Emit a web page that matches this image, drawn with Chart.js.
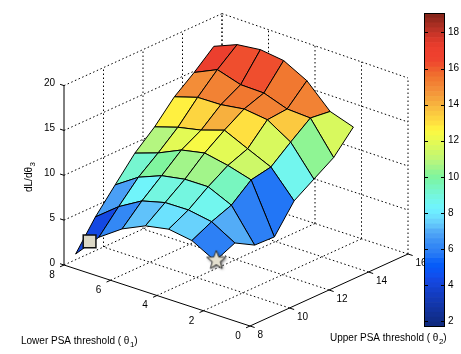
<!DOCTYPE html>
<html>
<head>
<meta charset="utf-8">
<title>dL/dθ3 surface</title>
<script src="https://cdn.jsdelivr.net/npm/chart.js@4"></script>
<style>
  html, body { margin: 0; padding: 0; background: #fff; }
  #wrap { position: relative; width: 461px; height: 354px; overflow: hidden; }
  canvas { position: absolute; left: 0; top: 0; }
</style>
</head>
<body>
<div id="wrap">
  <canvas id="surface" width="461" height="354"></canvas>
  <canvas id="colorbar" width="461" height="354"></canvas>
</div>
<script>
// values
const theta1Values = [7.5, 6.5, 5.5, 4.5, 3.5, 2.5, 1.5];
const theta2Values = [8, 9, 10, 11, 12, 13, 14, 15];
const zRows = [
  [1.65, 4.78, 7.35, 9.89, 11.82, 14.17, 15.88, 17.8],
  [4.37, 6.78, 9.06, 10.77, 12.64, 14.98, 17.08, 18.88],
  [6.15, 8.27, 10.09, 11.96, 13.19, 15.04, 16.28, 19.21],
  [7.34, 8.94, 10.55, 12.49, 14.05, 15.43, 16.23, 18.88],
  [7.82, 8.97, 10.57, 11.96, 12.84, 15.1, 15.32, 17.51],
  [7.4, 8.51, 9.37, 11.21, 11.66, 13.47, 15.19, 14.94],
  [5.98, 6.99, 5.76, 5.68, 8.73, 10.18, 11.62, 14.07],
];
const theta1Ticks = [0, 2, 4, 6, 8];
const theta2Ticks = [8, 10, 12, 14, 16];
const zTicks = [0, 5, 10, 15, 20];
const colorbarTicks = [2, 4, 6, 8, 10, 12, 14, 16, 18];
const squareMarker = [6.9, 8, 3.56];
const starMarker = [1.45, 8, 6.08];
const zMin = 1.67;
const zMax = 19.08;
const levelColors = [
  '#0f2a80', '#102d8a', '#113094', '#12339f', '#1236aa', '#1339b5', '#133cc0', '#1440cb',
  '#1545d8', '#1448e2', '#1050ee', '#0a55f5', '#065cf8', '#1066f8', '#2276f6', '#2d80f5',
  '#3388f5', '#3d92f5', '#4a9ff6', '#53acf7', '#60c2fa', '#68d2fc', '#6ce2fe', '#6eeeff',
  '#70f4fa', '#72f6ee', '#74f6e0', '#76f6d0', '#78f6bf', '#7af5ae', '#80f59f', '#8ff594',
  '#a2f58a', '#b4f680', '#c2f773', '#cdf868', '#d8f95e', '#e3fa55', '#eefa4c', '#f8f945',
  '#fff040', '#ffe040', '#fdd540', '#fbc940', '#f9bd40', '#f7b03e', '#f5a43c', '#f4983a',
  '#f38d38', '#f28234', '#f17830', '#f06c2e', '#ef5e2e', '#ef4e2e', '#ee432e', '#ee402e',
  '#ec3f2e', '#e63c2c', '#da392a', '#cb3528', '#ba3226', '#a92e22', '#98291e', '#87251a',
];

const FONT = '10px "Liberation Sans", Arial, sans-serif';
const SUB_FONT = '8px "Liberation Sans", Arial, sans-serif';

// 3D view: data values to the flat plane of the x/y scales
function project(t1, t2, z) {
  const a = t1 / 8, b = (t2 - 8) / 8;
  return {
    x: 250 - 186 * a + 158 * b,
    y: 326 - 61 * a - 72 * b - (8.97 - 0.17 * b * (1 - a)) * z,
  };
}

function colorFor(z) {
  const i = Math.floor((z - zMin) / (zMax - zMin) * levelColors.length);
  return levelColors[Math.max(0, Math.min(levelColors.length - 1, i))];
}

function lineSet(points, color, dash, width) {
  return {
    data: points.map(p => project(p[0], p[1], p[2])),
    showLine: true,
    fill: false,
    tension: 0,
    pointRadius: 0,
    borderColor: color,
    borderWidth: width || 1,
    borderDash: dash || [],
  };
}

function gridSets() {
  const sets = [];
  const dots = [1.5, 2.5];
  theta1Ticks.forEach(t => {
    if (t !== 0) sets.push(lineSet([[t, 8, 0], [t, 16, 0]], '#000', dots));
    sets.push(lineSet([[t, 16, 0], [t, 16, 20]], '#000', dots));
  });
  theta2Ticks.forEach(t => {
    if (t !== 8) sets.push(lineSet([[0, t, 0], [8, t, 0]], '#000', dots));
    if (t !== 8) sets.push(lineSet([[8, t, 0], [8, t, 20]], '#000', dots));
  });
  zTicks.forEach(z => {
    if (z === 0) return;
    sets.push(lineSet([[8, 8, z], [8, 16, z]], '#000', dots));
    sets.push(lineSet([[8, 16, z], [0, 16, z]], '#000', dots));
  });
  return sets;
}

function axisSets() {
  const sets = [
    lineSet([[8, 8, 0], [8, 8, 20]], '#000'),
    lineSet([[8, 8, 0], [0, 8, 0]], '#000'),
    lineSet([[0, 8, 0], [0, 16, 0]], '#000'),
  ];
  zTicks.forEach(z => sets.push(lineSet([[8, 8, z], [8.17, 8, z]], '#000')));
  theta1Ticks.forEach(t => sets.push(lineSet([[t, 8, 0], [t, 7.8, 0]], '#000')));
  theta2Ticks.forEach(t => sets.push(lineSet([[0, t, 0], [-0.2, t, 0]], '#000')));
  return sets;
}

// nearest cell first, the library paints dataset 0 last
function surfaceSets() {
  const sets = [];
  for (let i = theta1Values.length - 2; i >= 0; i--) {
    for (let k = 0; k < theta2Values.length - 1; k++) {
      const t1a = theta1Values[i], t1b = theta1Values[i + 1];
      const t2a = theta2Values[k], t2b = theta2Values[k + 1];
      const color = colorFor(zRows[i + 1][k]);
      const cell = lineSet([
        [t1a, t2a, zRows[i][k]],
        [t1a, t2b, zRows[i][k + 1]],
        [t1b, t2b, zRows[i + 1][k + 1]],
        [t1b, t2a, zRows[i + 1][k]],
        [t1a, t2a, zRows[i][k]],
      ], '#000');
      cell.fill = 'shape';
      cell.backgroundColor = color;
      cell.borderJoinStyle = 'round';
      sets.push(cell);
    }
  }
  return sets;
}

function starImage() {
  const c = document.createElement('canvas');
  c.width = 28;
  c.height = 28;
  const g = c.getContext('2d');
  g.beginPath();
  for (let n = 0; n < 10; n++) {
    const r = n % 2 ? 4.2 : 10;
    const ang = -Math.PI / 2 + n * Math.PI / 5;
    g[n ? 'lineTo' : 'moveTo'](14 + r * Math.cos(ang), 14 + r * Math.sin(ang));
  }
  g.closePath();
  g.shadowColor = 'rgba(0,0,0,0.7)';
  g.shadowBlur = 3;
  g.shadowOffsetX = 1;
  g.shadowOffsetY = 1;
  g.fillStyle = '#e4e0cf';
  g.fill();
  g.shadowColor = 'transparent';
  g.strokeStyle = '#333';
  g.lineWidth = 1;
  g.stroke();
  return c;
}

function markerSets() {
  const square = project(squareMarker[0], squareMarker[1], squareMarker[2]);
  const star = project(starMarker[0], starMarker[1], starMarker[2]);
  return [
    { data: [star], pointStyle: starImage(), pointRadius: 10, showLine: false },
    {
      data: [square], pointStyle: 'rect', pointRadius: 9, showLine: false,
      pointBackgroundColor: '#dcd8c6', pointBorderColor: '#111', pointBorderWidth: 1.5,
    },
  ];
}

// text with one subscript, rotated when needed
function labelWithSub(ctx, x, y, before, sub, after, rotate) {
  ctx.save();
  ctx.translate(x, y);
  if (rotate) ctx.rotate(-Math.PI / 2);
  ctx.textAlign = 'left';
  ctx.textBaseline = 'alphabetic';
  ctx.font = FONT;
  ctx.fillText(before, 0, 0);
  let pos = ctx.measureText(before).width + 0.5;
  ctx.font = SUB_FONT;
  ctx.fillText(sub, pos, 3);
  pos += ctx.measureText(sub).width;
  ctx.font = FONT;
  if (after) ctx.fillText(after, pos, 0);
  ctx.restore();
}

const surfaceText = {
  id: 'surfaceText',
  afterDatasetsDraw(chart) {
    const ctx = chart.ctx;
    const sx = chart.scales.x, sy = chart.scales.y;
    const at = (t1, t2, z) => {
      const p = project(t1, t2, z);
      return { x: sx.getPixelForValue(p.x), y: sy.getPixelForValue(p.y) };
    };
    ctx.save();
    ctx.fillStyle = '#000';
    ctx.font = FONT;
    ctx.textBaseline = 'middle';
    ctx.textAlign = 'right';
    zTicks.forEach(z => {
      const p = at(8, 8, z);
      ctx.fillText(String(z), p.x - 9, p.y - 2);
    });
    ctx.textAlign = 'center';
    theta1Ticks.forEach(t => {
      const p = at(t, 8, 0);
      ctx.fillText(String(t), p.x - 12, p.y + 10);
    });
    ctx.textAlign = 'left';
    theta2Ticks.forEach(t => {
      const p = at(0, t, 0);
      ctx.fillText(String(t), p.x + 7.5, p.y + 9);
    });
    labelWithSub(ctx, 21, 344, 'Lower PSA threshold ( θ', '1', ')', false);
    labelWithSub(ctx, 330, 341, 'Upper PSA threshold ( θ', '2', ')', false);
    labelWithSub(ctx, 32, 192, 'dL/dθ', '3', '', true);
    ctx.restore();
  },
};

new Chart(document.getElementById('surface'), {
  type: 'scatter',
  data: { datasets: [...markerSets(), ...surfaceSets(), ...axisSets(), ...gridSets()] },
  options: {
    responsive: false,
    animation: false,
    events: [],
    layout: { padding: 0, autoPadding: false },
    plugins: { legend: { display: false }, tooltip: { enabled: false } },
    scales: {
      x: { type: 'linear', min: 0, max: 461, display: false },
      y: { type: 'linear', min: 0, max: 354, reverse: true, display: false },
    },
  },
  plugins: [surfaceText],
});

const barFrame = {
  id: 'barFrame',
  afterDatasetsDraw(chart) {
    const { ctx, chartArea: a, scales } = chart;
    ctx.save();
    ctx.strokeStyle = '#000';
    ctx.lineWidth = 1;
    ctx.strokeRect(a.left + 0.5, a.top + 0.5, a.right - a.left - 1, a.bottom - a.top - 1);
    ctx.beginPath();
    colorbarTicks.forEach(v => {
      const y = Math.round(scales.y.getPixelForValue(v)) + 0.5;
      ctx.moveTo(a.left, y);
      ctx.lineTo(a.left + 4, y);
      ctx.moveTo(a.right, y);
      ctx.lineTo(a.right - 4, y);
    });
    ctx.stroke();
    ctx.restore();
  },
};

new Chart(document.getElementById('colorbar'), {
  type: 'bar',
  data: {
    labels: ['z'],
    datasets: levelColors.map((color, i) => ({
      data: [[
        zMin + (zMax - zMin) * i / levelColors.length,
        zMin + (zMax - zMin) * (i + 1) / levelColors.length,
      ]],
      backgroundColor: color,
      borderWidth: 0,
      barPercentage: 1,
      categoryPercentage: 1,
      grouped: false,
    })),
  },
  options: {
    responsive: false,
    animation: false,
    events: [],
    layout: { padding: { left: 424, top: 13, bottom: 27, right: 0 } },
    plugins: { legend: { display: false }, tooltip: { enabled: false } },
    scales: {
      x: { display: false, grid: { display: false } },
      y: {
        position: 'right',
        min: zMin,
        max: zMax,
        afterFit(scale) { scale.width = 16; },
        afterBuildTicks(scale) { scale.ticks = colorbarTicks.map(v => ({ value: v })); },
        grid: { display: false, drawTicks: false },
        border: { display: false },
        ticks: {
          color: '#000',
          padding: 3,
          font: { family: '"Liberation Sans", Arial, sans-serif', size: 10 },
          autoSkip: false,
          maxRotation: 0,
        },
      },
    },
  },
  plugins: [barFrame],
});
</script>
</body>
</html>
